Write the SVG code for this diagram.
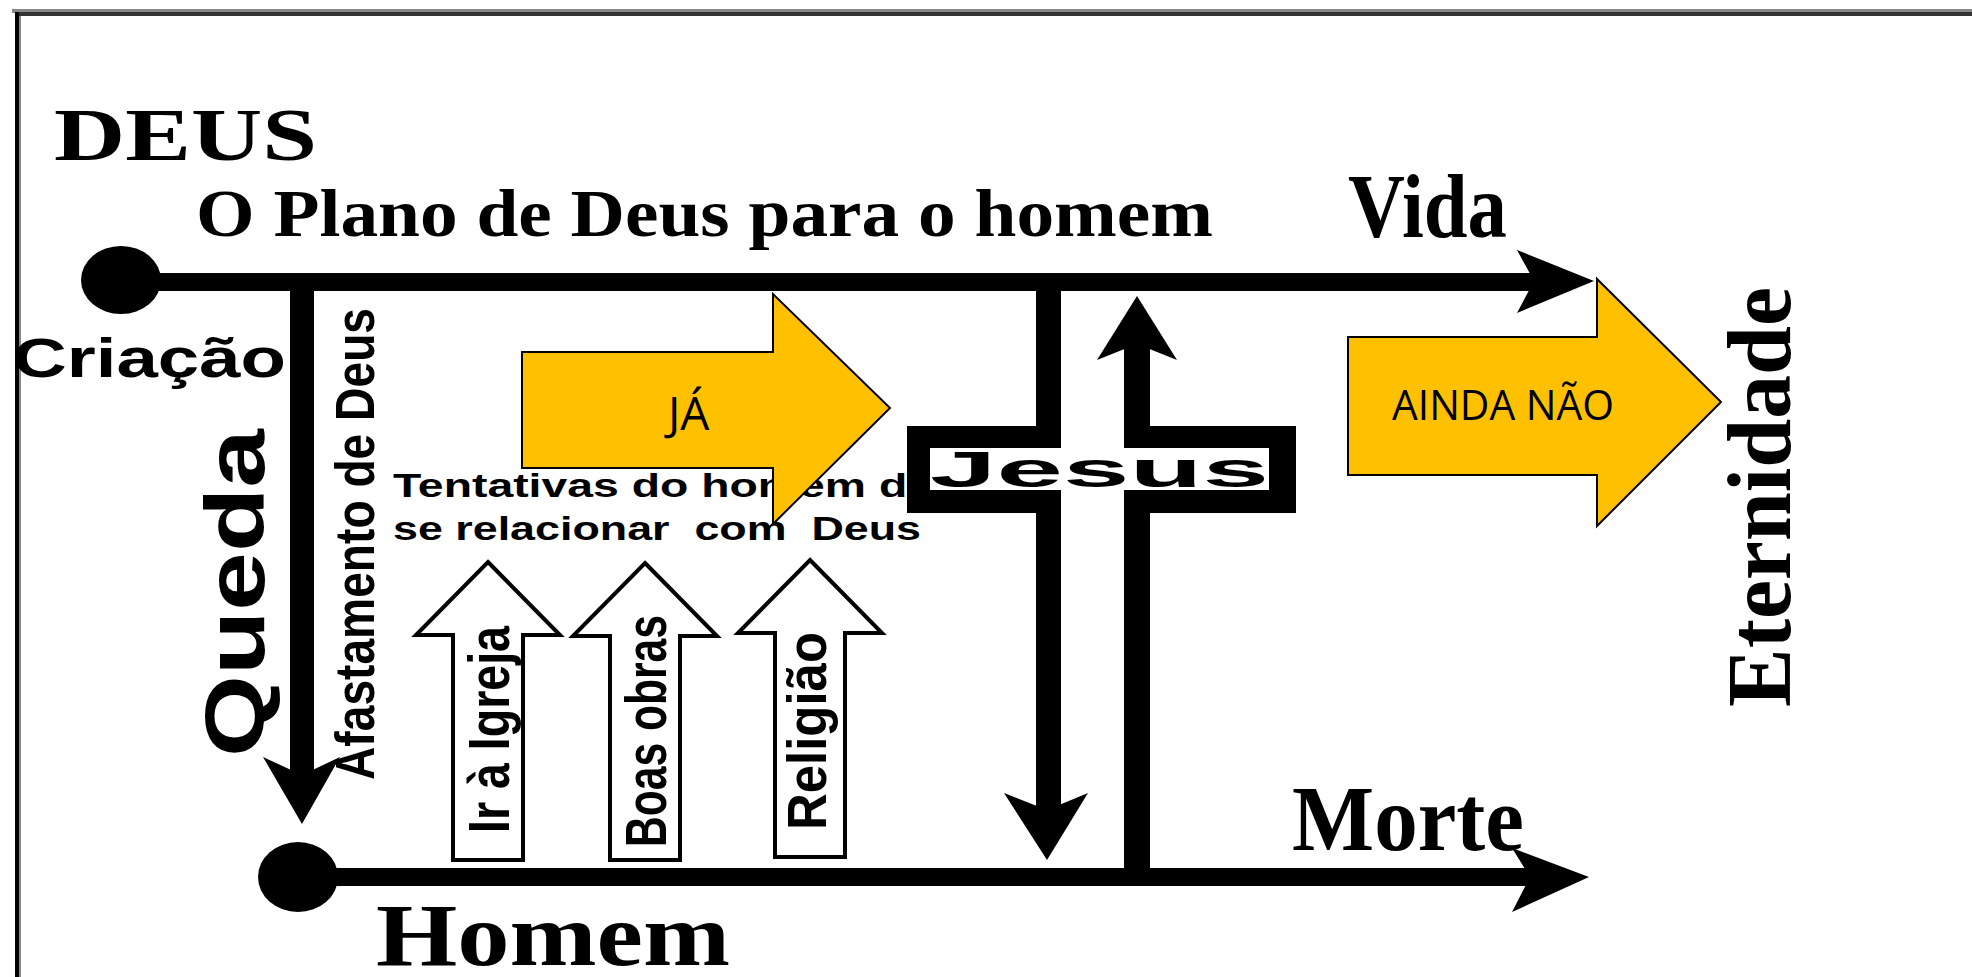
<svg xmlns="http://www.w3.org/2000/svg" width="1972" height="977" viewBox="0 0 1972 977">
<style>
.serif{font-family:"Liberation Serif","Times New Roman",serif;font-weight:bold;fill:#000}
.sans{font-family:"Liberation Sans",Arial,sans-serif;font-weight:bold;fill:#000}
.ppt{font-family:"Open Sans","Noto Sans",sans-serif;font-weight:normal;fill:#000}
.blk{fill:#000}
.yel{fill:#FFC000;stroke:#000;stroke-width:2;stroke-linejoin:miter}
.wht{fill:#fff;stroke:#000;stroke-width:4;stroke-linejoin:miter}
</style>
<rect width="1972" height="977" fill="#fff"/>
<g id="frame">
<rect x="12" y="9" width="1960" height="4" fill="#888"/>
<rect x="15" y="12" width="1957" height="4" fill="#333"/>
<rect x="15" y="12" width="4" height="965" fill="#000"/>
<rect x="19" y="16" width="2" height="961" fill="#888"/>
</g>
<g id="connectors">
<rect x="121" y="273" width="1416" height="18" class="blk"/>
<path d="M1517,250 L1594,281 L1517,313 L1534,281 Z" class="blk"/>
<rect x="298" y="868" width="1234" height="18" class="blk"/>
<path d="M1512,848 L1589,877 L1512,912 L1530,877 Z" class="blk"/>
<rect x="290" y="282" width="24" height="495" class="blk"/>
<path d="M263,757 L302,824 L340,757 L302,775 Z" class="blk"/>
<rect x="1036" y="282" width="25" height="150" class="blk"/>
<rect x="1036" y="510" width="25" height="302" class="blk"/>
<path d="M1004,793 L1047,860 L1088,793 L1047,810 Z" class="blk"/>
<rect x="1124" y="343" width="26" height="89" class="blk"/>
<rect x="1124" y="510" width="26" height="367" class="blk"/>
<path d="M1097,360 L1137,296 L1177,360 L1137,344 Z" class="blk"/>
</g>
<g id="node-criacao-dot"><ellipse cx="121" cy="280" rx="40" ry="34" class="blk"/></g>
<g id="node-homem-dot"><ellipse cx="298" cy="877" rx="40" ry="35" class="blk"/></g>
<g id="node-deus"><text x="54" y="160" font-size="73" textLength="263" lengthAdjust="spacingAndGlyphs" class="serif">DEUS</text></g>
<g id="node-plano"><text x="196" y="236" font-size="68" textLength="1017" lengthAdjust="spacingAndGlyphs" class="serif">O Plano de Deus para o homem</text></g>
<g id="node-vida"><text x="1348" y="237" font-size="92" textLength="159" lengthAdjust="spacingAndGlyphs" class="serif">Vida</text></g>
<g id="node-criacao"><text x="13" y="377" font-size="56" textLength="273" lengthAdjust="spacingAndGlyphs" class="sans">Criação</text></g>
<g id="node-queda"><text transform="translate(264,757) rotate(-90)" font-size="84" textLength="328" lengthAdjust="spacingAndGlyphs" class="sans">Queda</text></g>
<g id="node-afastamento"><text transform="translate(374,780) rotate(-90)" font-size="56" textLength="472" lengthAdjust="spacingAndGlyphs" class="sans">Afastamento de Deus</text></g>
<g id="node-tentativas">
<text x="393" y="497" font-size="33" textLength="540" lengthAdjust="spacingAndGlyphs" class="sans">Tentativas do homem de</text>
<text x="393" y="540" font-size="33" textLength="528" lengthAdjust="spacingAndGlyphs" class="sans" xml:space="preserve">se relacionar  com  Deus</text>
</g>
<g id="node-igreja">
<path d="M488,562 L560,635 L523,635 L523,860 L453,860 L453,635 L416,635 Z" class="wht"/>
<text transform="translate(509,833) rotate(-90)" font-size="58" textLength="207" lengthAdjust="spacingAndGlyphs" class="sans">Ir à Igreja</text>
</g>
<g id="node-boas-obras">
<path d="M645,563 L717,636 L680,636 L680,860 L610,860 L610,636 L573,636 Z" class="wht"/>
<text transform="translate(666,847) rotate(-90)" font-size="58" textLength="232" lengthAdjust="spacingAndGlyphs" class="sans">Boas obras</text>
</g>
<g id="node-religiao">
<path d="M810,560 L882,633 L845,633 L845,857 L775,857 L775,633 L738,633 Z" class="wht"/>
<text transform="translate(826,830) rotate(-90)" font-size="56" textLength="198" lengthAdjust="spacingAndGlyphs" class="sans">Religião</text>
</g>
<g id="node-jesus">
<rect x="907" y="426" width="389" height="87" class="blk"/>
<rect x="930" y="448" width="339" height="42" fill="#fff"/>
<rect x="1061" y="426" width="63" height="87" fill="#fff"/>
<text x="930" y="487" font-size="50" textLength="339" lengthAdjust="spacingAndGlyphs" class="sans">Jesus</text>
</g>
<g id="node-ja">
<path d="M522,352 L773,352 L773,294 L890,408 L773,524 L773,468 L522,468 Z" class="yel"/>
<text x="668" y="430" font-size="46" class="ppt">JÁ</text>
</g>
<g id="node-ainda-nao">
<path d="M1348,337 L1597,337 L1597,279 L1721,402 L1597,526 L1597,475 L1348,475 Z" class="yel"/>
<text x="1392" y="420" font-size="42" textLength="222" lengthAdjust="spacingAndGlyphs" class="ppt">AINDA NÃO</text>
</g>
<g id="node-eternidade"><text transform="translate(1790,707) rotate(-90)" font-size="92" textLength="420" lengthAdjust="spacingAndGlyphs" class="serif">Eternidade</text></g>
<g id="node-morte"><text x="1292" y="850" font-size="94" textLength="232" lengthAdjust="spacingAndGlyphs" class="serif">Morte</text></g>
<g id="node-homem"><text x="376" y="965" font-size="88" textLength="354" lengthAdjust="spacingAndGlyphs" class="serif">Homem</text></g>
</svg>
